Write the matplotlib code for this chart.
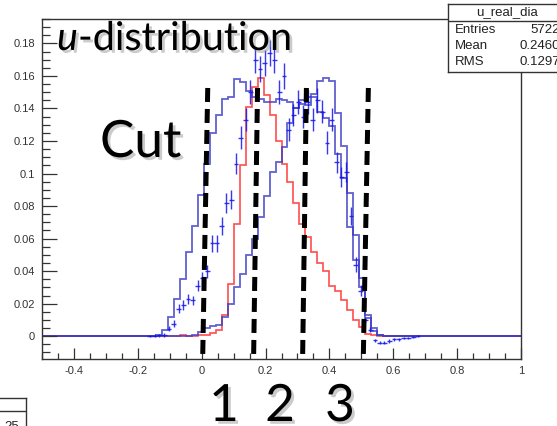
"""u-distribution: three MC samples, data points and the cut positions."""
import numpy as np
import matplotlib
matplotlib.use("Agg")
import matplotlib.pyplot as plt
import matplotlib.patheffects as pe
from matplotlib.ticker import MultipleLocator

W, H = 557, 426

# ----------------------------- data -----------------------------
# MC histograms: 80 bins in [-0.5, 1.0], values listed from bin 19 onwards
mc_lo, mc_hi, mc_nbins, mc_first = -0.5, 1.0, 80, 19
mc_broad = [0.0005, 0.004, 0.012, 0.023, 0.035, 0.052, 0.068, 0.087, 0.106, 0.125,
            0.136, 0.146, 0.147, 0.158, 0.156, 0.151, 0.147, 0.146, 0.144, 0.144,
            0.146, 0.145, 0.144, 0.140, 0.145, 0.142, 0.147, 0.138, 0.134, 0.129,
            0.112, 0.097, 0.067, 0.047, 0.030, 0.011, 0.003, 0.0006]
mc_right = [0.0, 0.0, 0.0, 0.0, 0.0, 0.0, 0.001, 0.0027, 0.005, 0.006,
            0.007, 0.012, 0.020, 0.030, 0.0385, 0.050, 0.060, 0.073, 0.086, 0.101,
            0.107, 0.1165, 0.131, 0.140, 0.143, 0.147, 0.149, 0.157, 0.159, 0.157,
            0.137, 0.117, 0.088, 0.062, 0.036, 0.013, 0.005, 0.001]
mc_mid = [0.0, 0.0, 0.0, 0.0, 0.001, 0.0, 0.0, 0.0005, 0.001, 0.002,
          0.004, 0.013, 0.032, 0.069, 0.105, 0.141, 0.153, 0.159, 0.148, 0.136,
          0.120, 0.106, 0.095, 0.082, 0.069, 0.061, 0.052, 0.045, 0.040, 0.031,
          0.028, 0.022, 0.016, 0.0098, 0.0057, 0.0016, 0.0005, 0.0]

# data: 100 bins in [-0.5, 1.0], values listed from bin 22 onwards
data_nbins, data_first = 100, 22
data_vals = [0.0, 0.0003, 0.0005, 0.0008, 0.0047, 0.0078, 0.017, 0.019, 0.023, 0.022,
             0.031, 0.0355, 0.040, 0.057, 0.057, 0.068, 0.082, 0.084, 0.106, 0.122,
             0.133, 0.150, 0.170, 0.164, 0.168, 0.174, 0.170, 0.150, 0.160, 0.127,
             0.136, 0.144, 0.135, 0.144, 0.133, 0.145, 0.138, 0.119, 0.133, 0.107,
             0.098, 0.101, 0.074, 0.044, 0.028, 0.010, 0.004, -0.0025, -0.004, -0.004,
             -0.003, -0.002, -0.002, -0.001, -0.001, -0.0005, 0.0]
data_errs = [0.0005, 0.0008, 0.001, 0.001, 0.0015, 0.002, 0.003, 0.003, 0.003, 0.003,
             0.0035, 0.004, 0.004, 0.005, 0.005, 0.0055, 0.006, 0.006, 0.0065, 0.007,
             0.007, 0.0075, 0.008, 0.008, 0.008, 0.008, 0.008, 0.0075, 0.008, 0.007,
             0.007, 0.0075, 0.007, 0.0075, 0.007, 0.0075, 0.007, 0.007, 0.007, 0.0065,
             0.006, 0.006, 0.0055, 0.0045, 0.0035, 0.002, 0.0015, 0.001, 0.001, 0.001,
             0.001, 0.001, 0.001, 0.0008, 0.0008, 0.0005, 0.0005]

# cut lines (slightly slanted in the original slide)
cut_x_top = [0.019, 0.175, 0.328, 0.522]
cut_x_bottom = [0.003, 0.1625, 0.316, 0.506]
cut_y_top, cut_y_bottom = 0.1526, -0.0148
cut_labels = ["1", "2", "3"]

stats_title = "u_real_dia"
stats_names = ["Entries", "Mean", "RMS"]
stats_values = ["5722", "0.2460", "0.1297"]

xticks = [-0.4, -0.2, 0, 0.2, 0.4, 0.6, 0.8, 1]
xtick_labels = ["-0.4", "-0.2", "0", "0.2", "0.4", "0.6", "0.8", "1"]
yticks = [0, 0.02, 0.04, 0.06, 0.08, 0.1, 0.12, 0.14, 0.16, 0.18]
ytick_labels = ["0", "0.02", "0.04", "0.06", "0.08", "0.1", "0.12", "0.14", "0.16", "0.18"]


def full_hist(vals, first, n):
    h = np.zeros(n)
    h[first:first + len(vals)] = vals
    return h


# ----------------------------- style -----------------------------
BLUE_MC = "#3a3ac4"
BLUE_DATA = "#1515f0"
RED_MC = "#ff3a3a"
FRAME = "#333333"
BIG_FONT = "Lato"

plt.rcParams.update({"font.family": "Liberation Sans"})

fig = plt.figure(figsize=(W / 100, H / 100), dpi=100, facecolor="white")


def fx(px):
    return px / W


def fy(py):
    return 1 - py / H


ax = fig.add_axes([fx(42), fy(359), fx(521) - fx(42), fy(19) - fy(359)])
ax.set_xlim(-0.5, 1.0)
ax.set_ylim(-0.014, 0.195)

mc_edges = np.linspace(mc_lo, mc_hi, mc_nbins + 1)
# red first so that the common zero line stays blue, as in the original
ax.stairs(full_hist(mc_mid, mc_first, mc_nbins), mc_edges, color=RED_MC, lw=1.2, alpha=0.9)
ax.stairs(full_hist(mc_broad, mc_first, mc_nbins), mc_edges, color=BLUE_MC, lw=1.3, alpha=0.8)
ax.stairs(full_hist(mc_right, mc_first, mc_nbins), mc_edges, color=BLUE_MC, lw=1.3, alpha=0.8)

d_edges = np.linspace(mc_lo, mc_hi, data_nbins + 1)
d_centers = 0.5 * (d_edges[:-1] + d_edges[1:])[data_first:data_first + len(data_vals)]
d_half = 0.5 * (d_edges[1] - d_edges[0])
ax.errorbar(d_centers, data_vals, yerr=data_errs, xerr=d_half, fmt="none",
            ecolor=BLUE_DATA, elinewidth=1.0, capsize=0, alpha=0.85, zorder=4)

# cut lines
for xt, xb in zip(cut_x_top, cut_x_bottom):
    ax.plot([xt, xb], [cut_y_top, cut_y_bottom], color="black", lw=3.6,
            dashes=(2.8, 1.4), solid_capstyle="butt", dash_capstyle="butt",
            clip_on=False, zorder=6)

# axes cosmetics (ROOT-like)
ax.set_xticks(xticks)
ax.set_xticklabels(xtick_labels)
ax.set_yticks(yticks)
ax.set_yticklabels(ytick_labels)
ax.xaxis.set_minor_locator(MultipleLocator(0.05))
ax.yaxis.set_minor_locator(MultipleLocator(0.005))
ax.tick_params(axis="both", which="both", direction="in", colors=FRAME,
               labelsize=8, labelcolor="#333333", pad=5, width=0.9)
ax.tick_params(axis="y", which="major", length=10.5)
ax.tick_params(axis="y", which="minor", length=5.5)
ax.tick_params(axis="x", which="major", length=8)
ax.tick_params(axis="x", which="minor", length=4.3)
for s in ax.spines.values():
    s.set_color(FRAME)
    s.set_linewidth(1.0)

# --- big slide annotations ---
shadow = [pe.withSimplePatchShadow(offset=(2, -2), shadow_rgbFace="0.55", alpha=0.45)]
t_u = fig.text(fx(57), fy(50), "u", fontsize=28.5, family=BIG_FONT, style="italic",
               ha="left", va="baseline", path_effects=shadow, zorder=10)
fig.add_artist(plt.matplotlib.text.Annotation(
    "-distribution", xy=(1, 0), xycoords=t_u, va="bottom", ha="left",
    fontsize=28.5, family=BIG_FONT, path_effects=shadow, zorder=10))
fig.text(fx(100), fy(157), "Cut", fontsize=37, family=BIG_FONT, ha="left",
         va="baseline", path_effects=shadow, zorder=10)
for lab, xc in zip(cut_labels, [224, 280, 340]):
    fig.text(fx(xc), fy(421), lab, fontsize=37, family=BIG_FONT, ha="center",
             va="baseline", path_effects=shadow, zorder=10)

# --- stats box (clipped at the right edge, as in the original) ---
sb = fig.add_axes([fx(448), fy(72), fx(562) - fx(448), fy(4) - fy(72)])
sb.set_facecolor("white")
sb.set_xticks([])
sb.set_yticks([])
for s in sb.spines.values():
    s.set_color(FRAME)
    s.set_linewidth(1.0)
sb.axhline(0.75, color=FRAME, lw=1.0)
sb.text(0.5175, 0.875, stats_title, ha="center", va="center", fontsize=9.5, color="#222222")
for i, (nm, val) in enumerate(zip(stats_names, stats_values)):
    yy = 0.618 - i * 0.2355
    sb.text(0.061, yy, nm, ha="left", va="center", fontsize=9.5, color="#222222")
    sb.text(0.982, yy, val, ha="right", va="center", fontsize=9.5, color="#222222")

# --- fragment of another stats box at the bottom-left corner ---
fb = fig.add_axes([fx(-5), fy(440), fx(26) - fx(-5), fy(398) - fy(440)])
fb.set_facecolor("white")
fb.set_xticks([])
fb.set_yticks([])
for s in fb.spines.values():
    s.set_color(FRAME)
    s.set_linewidth(1.0)
fb.axhline(0.69, color=FRAME, lw=1.0)
fb.text(0.29, 0.25, "25", ha="left", va="baseline", fontsize=9.5, color="#222222")

fig.savefig("out.png", dpi=100, facecolor="white")
